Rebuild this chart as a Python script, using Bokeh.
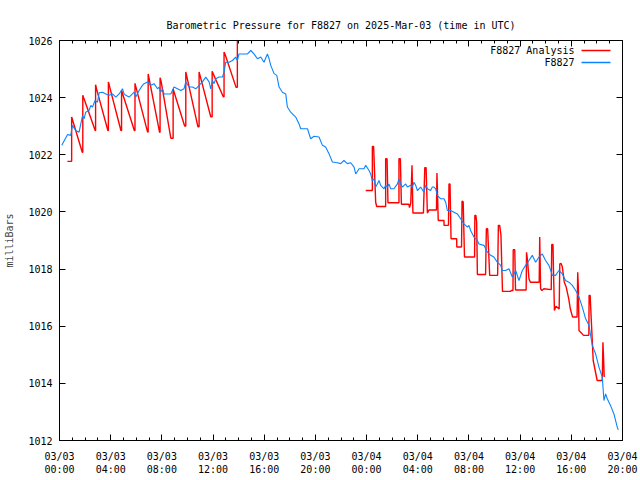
from bokeh.plotting import figure
from bokeh.models import Range1d, LinearAxis, FixedTicker, Label, Arrow, CustomJSTickFormatter
from bokeh.embed import file_html
from bokeh.resources import INLINE

FONT = "DejaVu Sans Mono"

# ---- data (hours since 2025-03-03 00:00 UTC, pressure in mb) ----
obs_hours = [0.18, 0.63, 0.88, 1.01, 1.27, 1.53, 1.80, 1.92, 2.05, 2.31, 2.45, 2.58, 2.78, 2.97,
             3.10, 3.36, 3.62, 3.88, 4.14, 4.40, 4.66, 4.92, 5.05, 5.18, 5.44, 5.70, 5.83, 5.96,
             6.22, 6.48, 6.61, 6.88, 7.13, 7.39, 7.66, 7.78, 7.91, 8.05, 8.17, 8.70, 8.95, 9.22,
             9.48, 9.73, 9.87, 10.13, 10.39, 10.65, 10.91, 11.17, 11.43, 11.69, 11.82, 11.95,
             12.08, 12.21, 12.47, 12.73, 12.86, 12.99, 13.25, 13.52, 13.77, 13.90, 14.03, 14.42,
             14.69, 14.95, 15.20, 15.47, 15.73, 15.98, 16.25, 16.38, 16.51, 16.77, 16.98, 17.16,
             17.42, 17.68, 17.81, 18.07, 18.46, 18.72, 18.85, 19.38, 19.63, 19.89, 20.28, 20.55,
             20.80, 21.06, 21.33, 21.72, 21.98, 22.23, 22.50, 22.76, 23.02, 23.15, 23.41, 23.80,
             23.93, 24.19, 24.32, 24.45, 24.58, 24.71, 24.84, 24.97, 25.10, 25.36, 25.49, 25.63,
             25.75, 25.88, 26.14, 26.41, 26.53, 26.66, 26.80, 27.05, 27.19, 27.45, 27.58, 27.70,
             27.84, 27.97, 28.23, 28.48, 28.62, 28.75, 29.00, 29.14, 29.27, 29.40, 29.53, 29.79,
             30.05, 30.18, 30.31, 30.57, 30.83, 31.09, 31.35, 31.61, 31.88, 32.00, 32.13, 32.39,
             32.66, 32.78, 33.17, 33.44, 33.70, 33.95, 34.22, 34.48, 34.61, 34.87, 35.13, 35.39,
             35.65, 35.91, 36.17, 36.43, 36.69, 36.95, 37.21, 37.47, 37.73, 37.99, 38.25, 38.52,
             38.77, 39.03, 39.30, 39.55, 39.81, 40.08, 40.34, 40.60, 40.86, 41.12, 41.38, 41.64,
             41.90, 42.16, 42.42, 42.55, 42.68, 42.81, 43.07, 43.33, 43.59, 43.67]
obs_mb = [1022.33, 1022.71, 1022.68, 1023.03, 1022.85, 1022.79, 1023.37, 1023.26, 1023.49, 1023.55,
          1023.73, 1023.67, 1023.90, 1023.84, 1024.17, 1024.19, 1024.13, 1024.08, 1024.13, 1024.02,
          1024.13, 1024.31, 1024.13, 1024.08, 1024.02, 1024.13, 1024.19, 1024.02, 1024.25, 1024.43,
          1024.49, 1024.55, 1024.43, 1024.49, 1024.31, 1024.37, 1024.19, 1024.31, 1024.13, 1024.13,
          1024.37, 1024.31, 1024.25, 1024.31, 1024.55, 1024.37, 1024.37, 1024.31, 1024.43, 1024.55,
          1024.72, 1024.55, 1024.31, 1024.60, 1024.49, 1024.66, 1024.72, 1024.72, 1024.89, 1025.24,
          1025.24, 1025.30, 1025.42, 1025.30, 1025.53, 1025.53, 1025.53, 1025.65, 1025.53, 1025.36,
          1025.42, 1025.24, 1025.53, 1025.36, 1025.13, 1024.84, 1024.78, 1024.37, 1024.19, 1024.13,
          1023.67, 1023.49, 1023.32, 1023.08, 1022.91, 1022.91, 1022.56, 1022.65, 1022.62, 1022.33,
          1022.27, 1022.04, 1021.75, 1021.72, 1021.69, 1021.80, 1021.69, 1021.72, 1021.57, 1021.33,
          1021.51, 1021.51, 1021.63, 1021.45, 1021.33, 1021.10, 1021.16, 1020.87, 1020.98, 1021.10,
          1020.93, 1020.81, 1020.93, 1020.87, 1020.98, 1020.81, 1020.81, 1020.98, 1021.16, 1020.98,
          1020.87, 1020.98, 1020.87, 1020.93, 1020.87, 1021.04, 1020.93, 1020.75, 1020.87, 1020.69,
          1020.93, 1020.81, 1020.75, 1020.87, 1020.87, 1020.81, 1020.58, 1020.46, 1020.46, 1020.34,
          1020.05, 1020.05, 1019.99, 1019.93, 1019.76, 1019.58, 1019.47, 1019.53, 1019.35, 1019.12,
          1019.00, 1018.88, 1018.83, 1018.59, 1018.48, 1018.42, 1018.24, 1018.13, 1017.95, 1017.95,
          1018.01, 1017.72, 1017.95, 1017.60, 1017.95, 1018.13, 1018.30, 1018.48, 1018.24, 1018.42,
          1018.53, 1018.30, 1018.13, 1017.78, 1017.78, 1017.95, 1017.83, 1017.60, 1017.54, 1017.43,
          1017.25, 1017.02, 1016.67, 1016.26, 1016.03, 1015.33, 1015.03, 1014.57, 1014.22, 1013.40,
          1013.63, 1013.46, 1013.22, 1012.93, 1012.47, 1012.37]

# analysis, first run (03/03 early to mid-day)
ana1_hours = [0.62, 0.95, 0.95, 1.78, 1.82, 1.82, 2.79, 2.82, 2.82, 2.90, 3.78, 3.82, 3.82, 4.80,
              4.85, 4.85, 5.85, 5.90, 5.90, 6.88, 6.93, 6.93, 7.82, 7.86, 7.86, 7.95, 8.70, 8.88,
              8.88, 9.78, 9.87, 9.87, 10.82, 10.91, 10.91, 11.82, 11.93, 11.93, 12.80, 12.86,
              12.86, 12.95, 13.80, 13.90, 13.90]
ana1_mb = [1021.77, 1021.77, 1023.32, 1022.09, 1022.09, 1024.08, 1022.85, 1022.85, 1024.45, 1024.30,
           1022.85, 1022.85, 1024.55, 1022.85, 1022.85, 1024.25, 1022.85, 1022.85, 1024.50, 1022.80,
           1022.80, 1024.83, 1022.79, 1022.79, 1024.70, 1024.55, 1022.58, 1022.58, 1024.30, 1023.01,
           1023.01, 1024.90, 1022.98, 1022.98, 1024.90, 1023.33, 1023.33, 1024.92, 1024.03, 1024.03,
           1025.60, 1025.50, 1024.36, 1024.36, 1026.10]

# analysis, second run (03/04)
ana2_hours = [23.93, 24.45, 24.45, 24.55, 24.71, 24.79, 25.49, 25.49, 25.60, 25.67, 26.53, 26.53,
              26.64, 26.72, 27.31, 27.35, 27.45, 27.55, 27.62, 28.44, 28.55, 28.65, 28.75, 28.88,
              29.46, 29.50, 29.60, 30.05, 30.05, 30.40, 30.44, 30.52, 30.60, 31.04, 31.05, 31.42,
              31.46, 31.55, 31.65, 32.44, 32.46, 32.54, 32.60, 32.66, 33.30, 33.36, 33.46, 33.62,
              34.24, 34.30, 34.40, 34.50, 34.62, 35.26, 35.30, 35.44, 35.46, 35.58, 35.64, 36.47,
              36.50, 36.58, 36.69, 36.80, 37.49, 37.53, 37.60, 37.70, 37.85, 38.43, 38.47, 38.57,
              38.60, 38.68, 38.80, 39.05, 39.10, 39.20, 39.30, 39.45, 39.60, 39.80, 39.92, 40.10,
              40.45, 40.50, 40.55, 40.60, 40.96, 41.37, 41.39, 41.47, 41.55, 41.71, 42.02, 42.42,
              42.47, 42.52, 42.57]
ana2_mb = [1020.75, 1020.75, 1022.29, 1022.29, 1020.34, 1020.19, 1020.19, 1021.86, 1021.86, 1020.32,
           1020.32, 1021.86, 1021.86, 1020.27, 1020.27, 1020.15, 1020.30, 1021.63, 1019.96, 1019.96,
           1021.55, 1021.55, 1019.96, 1020.07, 1020.07, 1021.36, 1019.70, 1019.70, 1019.53, 1019.53,
           1020.98, 1020.98, 1019.06, 1019.06, 1018.77, 1018.77, 1020.38, 1020.35, 1018.42, 1018.42,
           1019.88, 1019.88, 1019.65, 1017.81, 1017.81, 1019.41, 1019.41, 1017.78, 1017.78, 1019.53,
           1019.53, 1019.20, 1017.22, 1017.22, 1017.25, 1017.25, 1018.68, 1018.68, 1017.27, 1017.27,
           1018.59, 1018.30, 1017.66, 1017.54, 1017.54, 1019.12, 1017.31, 1017.25, 1017.31, 1017.28,
           1018.86, 1018.86, 1018.07, 1016.55, 1016.70, 1016.60, 1018.18, 1018.20, 1018.07, 1017.54,
           1017.37, 1016.96, 1016.61, 1016.32, 1016.32, 1017.89, 1017.37, 1015.85, 1015.68, 1015.68,
           1017.08, 1017.08, 1016.32, 1014.80, 1014.10, 1014.10, 1015.44, 1014.90, 1014.22]

x_tick_hours = [0, 4, 8, 12, 16, 20, 24, 28, 32, 36, 40, 44]
x_tick_labels = ["03/03\n00:00", "03/03\n04:00", "03/03\n08:00", "03/03\n12:00",
                 "03/03\n16:00", "03/03\n20:00", "03/04\n00:00", "03/04\n04:00",
                 "03/04\n08:00", "03/04\n12:00", "03/04\n16:00", "03/04\n20:00"]
x_minor_hours = list(range(0, 45))
y_ticks = [1012, 1014, 1016, 1018, 1020, 1022, 1024, 1026]

series_names = ["F8827 Analysis", "F8827"]
series_colors = ["#ff0000", "#0a84ff"]

# ---- figure ----
p = figure(width=640, height=480, output_backend="svg", toolbar_location=None,
           x_range=Range1d(0, 44), y_range=Range1d(1012, 1026),
           min_border_left=59, min_border_right=18, min_border_top=40, min_border_bottom=40,
           background_fill_color="white", border_fill_color="white")
p.grid.visible = False
p.outline_line_color = "black"
p.outline_line_width = 1

p.title.text = "Barometric Pressure for F8827 on 2025-Mar-03 (time in UTC)"
p.title.align = "center"
p.title.text_font = FONT
p.title.text_font_size = "10px"
p.title.text_font_style = "normal"
p.title.text_color = "black"
p.title.standoff = 19

xt = FixedTicker(ticks=x_tick_hours, minor_ticks=x_minor_hours)
yt = FixedTicker(ticks=y_ticks)

def style_axis(ax):
    ax.axis_line_color = "black"
    ax.major_tick_line_color = "black"
    ax.minor_tick_line_color = "black"
    ax.major_tick_in = 6
    ax.major_tick_out = 0
    ax.minor_tick_in = 3
    ax.minor_tick_out = 0
    ax.major_label_text_font = FONT
    ax.major_label_text_font_size = "10px"
    ax.major_label_text_color = "black"

def mirror_axis(ax):
    # tick marks only, no labels (gnuplot mirrored ticks)
    style_axis(ax)
    ax.formatter = CustomJSTickFormatter(code="return ''")
    ax.major_label_text_color = None
    ax.major_label_text_font_size = "1px"
    ax.major_label_standoff = 0

xa = p.xaxis[0]
xa.ticker = xt
xa.major_label_overrides = {h: lab for h, lab in zip(x_tick_hours, x_tick_labels)}
style_axis(xa)
xa.major_label_standoff = 10

ya = p.yaxis[0]
ya.ticker = yt
style_axis(ya)
ya.minor_tick_line_color = None
ya.major_label_standoff = 7
ya.axis_label = "milliBars"
ya.axis_label_text_font = FONT
ya.axis_label_text_font_size = "10px"
ya.axis_label_text_font_style = "normal"
ya.axis_label_standoff = 10

top = LinearAxis(ticker=xt)
mirror_axis(top)
p.add_layout(top, "above")
right = LinearAxis(ticker=yt)
mirror_axis(right)
right.minor_tick_line_color = None
p.add_layout(right, "right")

p.line(ana1_hours, ana1_mb, line_color=series_colors[0], line_width=1.4)
p.line(ana2_hours, ana2_mb, line_color=series_colors[0], line_width=1.4)
p.line(obs_hours, obs_mb, line_color=series_colors[1], line_width=1.1)

# legend (text right, sample line to its right), gnuplot style
leg_y = [1025.65, 1025.23]
for name, col, yy in zip(series_names, series_colors, leg_y):
    p.add_layout(Label(x=40.25, y=yy, text=name, text_align="right", text_baseline="middle",
                       text_font=FONT, text_font_size="10px", text_color="black"))
    p.add_layout(Arrow(end=None, x_start=40.8, y_start=yy, x_end=43.06, y_end=yy,
                       line_color=col, line_width=1.5))

open("out.html", "w").write(file_html(p, INLINE))
